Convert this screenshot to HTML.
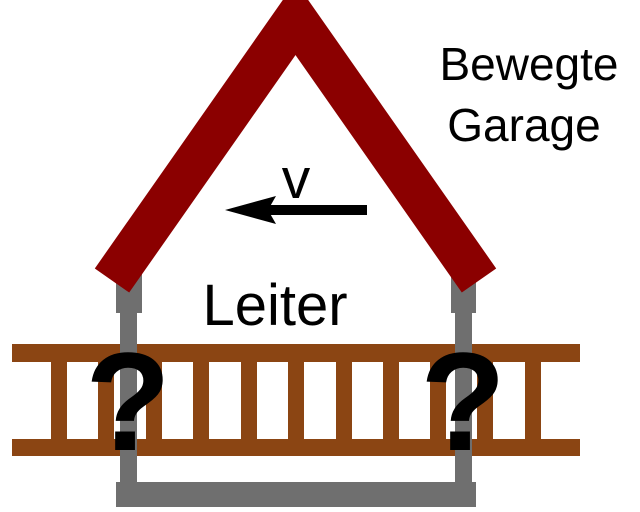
<!DOCTYPE html>
<html>
<head>
<meta charset="utf-8">
<style>
html,body{margin:0;padding:0;background:#fff;}
svg{display:block;}
</style>
</head>
<body>
<svg width="640" height="512" viewBox="0 0 640 512" xmlns="http://www.w3.org/2000/svg">
  <rect x="0" y="0" width="640" height="512" fill="#ffffff"/>
  <!-- Ladder rails -->
  <g fill="#8b4513">
    <rect x="12" y="344" width="568" height="18"/>
    <rect x="12" y="439" width="568" height="17"/>
    <!-- rungs -->
    <rect x="51" y="360" width="16" height="81"/>
    <rect x="98" y="360" width="16" height="81"/>
    <rect x="146" y="360" width="16" height="81"/>
    <rect x="193" y="360" width="16" height="81"/>
    <rect x="241" y="360" width="16" height="81"/>
    <rect x="288" y="360" width="16" height="81"/>
    <rect x="336" y="360" width="16" height="81"/>
    <rect x="383" y="360" width="16" height="81"/>
    <rect x="430" y="360" width="16" height="81"/>
    <rect x="477" y="360" width="16" height="81"/>
    <rect x="525" y="360" width="16" height="81"/>
  </g>
  <!-- Garage posts (gray) -->
  <g fill="#6f6f6f">
    <rect x="116" y="268" width="26" height="45"/>
    <rect x="120" y="312" width="17" height="172"/>
    <rect x="451" y="268" width="25" height="45"/>
    <rect x="455" y="312" width="17" height="172"/>
    <rect x="116" y="482" width="360" height="25"/>
  </g>
  <!-- Roof -->
  <polyline points="112,280.5 295.5,18.5 479,280.5" fill="none" stroke="#8b0000" stroke-width="42" stroke-linejoin="miter" stroke-miterlimit="10" stroke-linecap="butt"/>
  <!-- Arrow -->
  <rect x="268" y="205" width="99" height="10" fill="#000"/>
  <polygon points="225,210 276,196 268,210 276,224" fill="#000"/>
  <!-- Texts -->
  <g font-family="Liberation Sans, Arial, sans-serif" fill="#000">
    <text x="296" y="198" font-size="57" text-anchor="middle">v</text>
    <text x="275" y="325" font-size="58" text-anchor="middle">Leiter</text>
    <text x="529" y="80" font-size="46" text-anchor="middle">Bewegte</text>
    <text x="524" y="141" font-size="46" text-anchor="middle">Garage</text>
    <text x="128" y="450" font-size="140" font-weight="bold" text-anchor="middle">?</text>
    <text x="463" y="450" font-size="140" font-weight="bold" text-anchor="middle">?</text>
  </g>
</svg>
</body>
</html>
